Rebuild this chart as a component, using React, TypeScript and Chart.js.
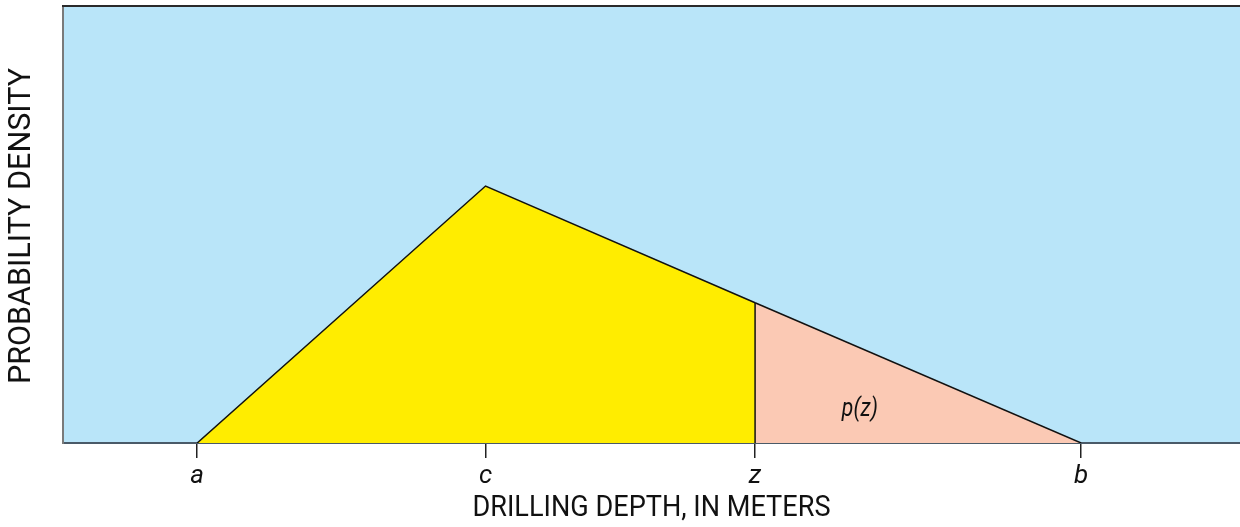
import React, { useEffect, useRef } from "react";
import { Chart, registerables } from "chart.js";

Chart.register(...registerables);

// Positions along the depth axis (relative units) and their labels
const tickValues = [11.4, 35.9, 58.8, 86.5];
const tickLabels = ["a", "c", "z", "b"];

// Density curve vertices (triangular distribution)
const leftPart = [
  { x: 11.4, y: 0 },
  { x: 35.9, y: 0.588 },
  { x: 58.8, y: 0.321 },
];
const rightPart = [
  { x: 58.8, y: 0.321 },
  { x: 86.5, y: 0 },
];
const zLine = [
  { x: 58.8, y: 0 },
  { x: 58.8, y: 0.321 },
];
const areaLabel = { x: 67.7, y: 0.075, text: "p(z)" };
const xTitle = "DRILLING DEPTH, IN METERS";
const yTitle = "PROBABILITY DENSITY";

const FONT = "'Roboto', 'DejaVu Sans', sans-serif";

export default function App() {
  const ref = useRef<HTMLCanvasElement | null>(null);

  useEffect(() => {
    if (!ref.current) return;
    const bgPlugin = {
      id: "bgPlugin",
      beforeDraw(chart: any) {
        const { ctx, chartArea } = chart;
        ctx.save();
        ctx.fillStyle = "rgb(185,229,249)";
        ctx.fillRect(chartArea.left, chartArea.top, chartArea.right - chartArea.left, chartArea.bottom - chartArea.top);
        ctx.restore();
      },
      afterDraw(chart: any) {
        const { ctx, chartArea, scales } = chart;
        ctx.save();
        ctx.strokeStyle = "#2a2a2a";
        ctx.lineWidth = 2;
        ctx.beginPath();
        ctx.moveTo(chartArea.left - 1, chartArea.top);
        ctx.lineTo(chartArea.right, chartArea.top);
        ctx.stroke();

        ctx.fillStyle = "#111";
        ctx.textAlign = "center";
        ctx.textBaseline = "middle";
        // label inside the shaded tail
        ctx.font = `italic 25px ${FONT}`;
        ctx.fillText(areaLabel.text, scales.x.getPixelForValue(areaLabel.x), scales.y.getPixelForValue(areaLabel.y), 36);

        // x-axis title (condensed)
        ctx.font = `30px ${FONT}`;
        ctx.fillText(xTitle, (chartArea.left + chartArea.right) / 2, 508, 358);

        // y-axis title (condensed, rotated)
        ctx.save();
        ctx.translate(22, 226);
        ctx.rotate(-Math.PI / 2);
        ctx.font = `31px ${FONT}`;
        ctx.fillText(yTitle, 0, 0, 316);
        ctx.restore();
        ctx.restore();
      },
    };

    const chart = new Chart(ref.current, {
      type: "line",
      data: {
        datasets: [
          {
            data: zLine,
            borderColor: "#111",
            borderWidth: 1.5,
            pointRadius: 0,
            fill: false,
          },
          {
            data: leftPart,
            borderColor: "#111",
            borderWidth: 1.5,
            backgroundColor: "rgb(255,237,0)",
            pointRadius: 0,
            fill: "origin",
          },
          {
            data: rightPart,
            borderColor: "#111",
            borderWidth: 1.5,
            backgroundColor: "rgb(251,201,180)",
            pointRadius: 0,
            fill: "origin",
          },
        ],
      },
      options: {
        animation: false,
        responsive: false,
        devicePixelRatio: 1,
        layout: { padding: { top: 6, right: 0, left: 0, bottom: 0 } },
        plugins: { legend: { display: false }, tooltip: { enabled: false } },
        scales: {
          x: {
            type: "linear",
            min: 0,
            max: 100,
            afterFit: (s: any) => {
              s.height = 84;
            },
            afterBuildTicks: (s: any) => {
              s.ticks = tickValues.map((v) => ({ value: v }));
            },
            ticks: {
              autoSkip: false,
              maxRotation: 0,
              padding: 3,
              color: "#111",
              font: { family: FONT, size: 26, style: "italic" },
              callback: (v: any) => {
                const i = tickValues.indexOf(Number(v));
                return i >= 0 ? tickLabels[i] : "";
              },
            },
            grid: {
              drawOnChartArea: false,
              drawTicks: true,
              tickLength: 15,
              color: "#222",
              lineWidth: 1.5,
            },
            border: { display: true, color: "#4a5a68", width: 2 },
            title: { display: false },
          },
          y: {
            type: "linear",
            min: 0,
            max: 1,
            afterFit: (s: any) => {
              s.width = 63;
            },
            ticks: { display: false },
            grid: { display: false },
            border: { display: true, color: "#7a7a7a", width: 2 },
            title: { display: false },
          },
        },
      },
      plugins: [bgPlugin],
    });
    return () => chart.destroy();
  }, []);

  return (
    <div style={{ position: "fixed", left: 0, top: 0, width: 1240, height: 527, background: "#fff" }}>
      <canvas ref={ref} width={1240} height={527} style={{ display: "block", width: 1240, height: 527 }} />
    </div>
  );
}
